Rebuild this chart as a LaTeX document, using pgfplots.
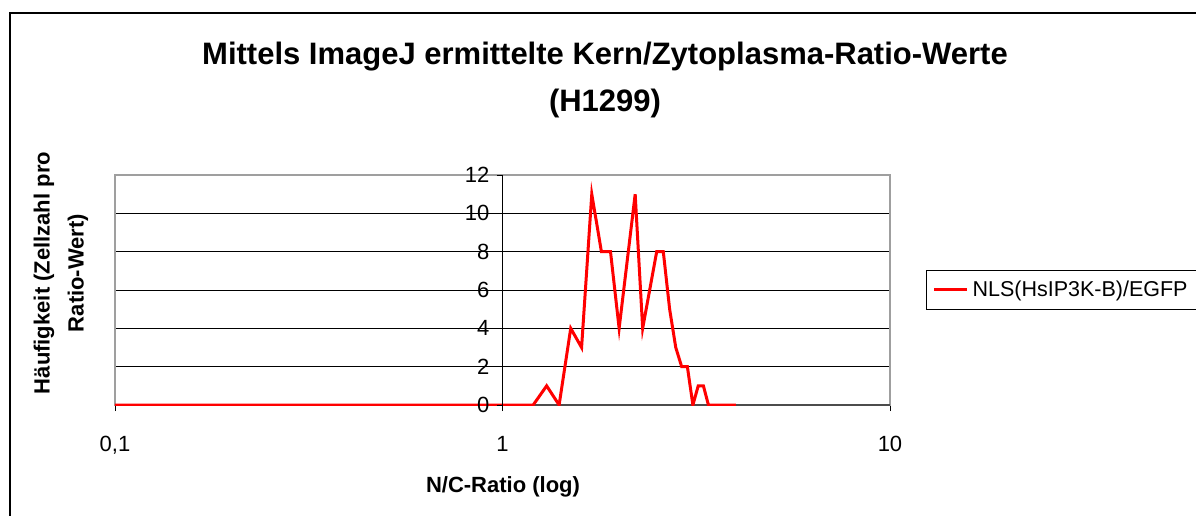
\documentclass[border=0pt]{standalone}
\usepackage{pgfplots}
\pgfplotsset{compat=1.18}
\usepackage{fontspec}
\setmainfont{Liberation Sans}
\begin{document}
\begin{tikzpicture}[x=0.5pt,y=-0.5pt]
\useasboundingbox (0,0) rectangle (1196,515);
\draw[black,line width=1pt] (10,520) -- (10,13) -- (1200,13);
\node[font=\fontsize{15.5}{18}\selectfont\bfseries] at (605,57) {Mittels ImageJ ermittelte Kern/Zytoplasma-Ratio-Werte};
\node[font=\fontsize{15.5}{18}\selectfont\bfseries] at (605,103) {(H1299)};
\node[font=\fontsize{11}{17}\selectfont\bfseries, rotate=90, align=center] at (61,273) {Häufigkeit (Zellzahl pro\\Ratio-Wert)};
\node[font=\fontsize{11}{13}\selectfont\bfseries] at (503,487) {N/C-Ratio (log)};
\begin{axis}[
  at={(57.5pt,-202.5pt)}, anchor=south west,
  width=387.5pt, height=115pt, scale only axis,
  xmode=log, xmin=0.1, xmax=10, ymin=0, ymax=12,
  xtick={0.1,1,10}, xticklabels={{0,1},1,10},
  xminorticks=false,
  xtick pos=bottom, ytick pos=left,
  tick align=outside, major tick length=3pt,
  x tick style={black},
  ytick={2,4,6,8,10},
  yticklabel style={text opacity=0, opacity=0},
  y tick style={draw=none},
  ymajorgrids, grid style={black, line width=0.5pt},
  axis line style={gray!75, line width=0.6pt},
  xticklabel style={font=\fontsize{11}{13}\selectfont, yshift=-9pt},
  legend entries={NLS(HsIP3K-B)/EGFP},
  legend style={at={(rel axis cs:1.0465,0.587)}, anchor=north west, draw=black, line width=0.5pt,
    font=\fontsize{10.75}{13}\selectfont, inner xsep=3pt, inner ysep=3pt},
  legend image code/.code={\draw[red, line width=1.5pt] (0pt,0pt) -- (16.5pt,0pt);},
]
\draw[black!70, line width=1pt] (rel axis cs:0,0) -- (rel axis cs:1,0);
\addplot[red, line width=1.5pt, mark=none] coordinates {
(0.1,0) (0.2,0) (0.3,0) (0.4,0) (0.5,0) (0.6,0) (0.7,0) (0.8,0) (0.9,0) (1.0,0)
(1.1,0) (1.2,0) (1.3,1) (1.4,0) (1.5,4) (1.6,3) (1.7,11) (1.8,8) (1.9,8) (2.0,4)
(2.2,11) (2.3,4) (2.5,8) (2.6,8) (2.7,5) (2.8,3) (2.9,2) (3.0,2) (3.1,0) (3.2,1)
(3.3,1) (3.4,0) (3.5,0) (3.6,0) (3.7,0) (3.8,0) (3.9,0) (4.0,0)
};
\end{axis}
\begin{axis}[
  at={(57.5pt,-202.5pt)}, anchor=south west,
  width=387.5pt, height=115pt, scale only axis,
  xmin=-1, xmax=1, ymin=0, ymax=12,
  axis x line=none, axis y line=middle,
  ytick={0,2,4,6,8,10,12}, yticklabels={0,2,4,6,8,10,12},
  tick align=outside, major tick length=3pt,
  tick style={black}, axis line style={black,-, line width=0.5pt},
  yticklabel style={font=\fontsize{11}{13}\selectfont},
]
\end{axis}
\end{tikzpicture}
\end{document}
